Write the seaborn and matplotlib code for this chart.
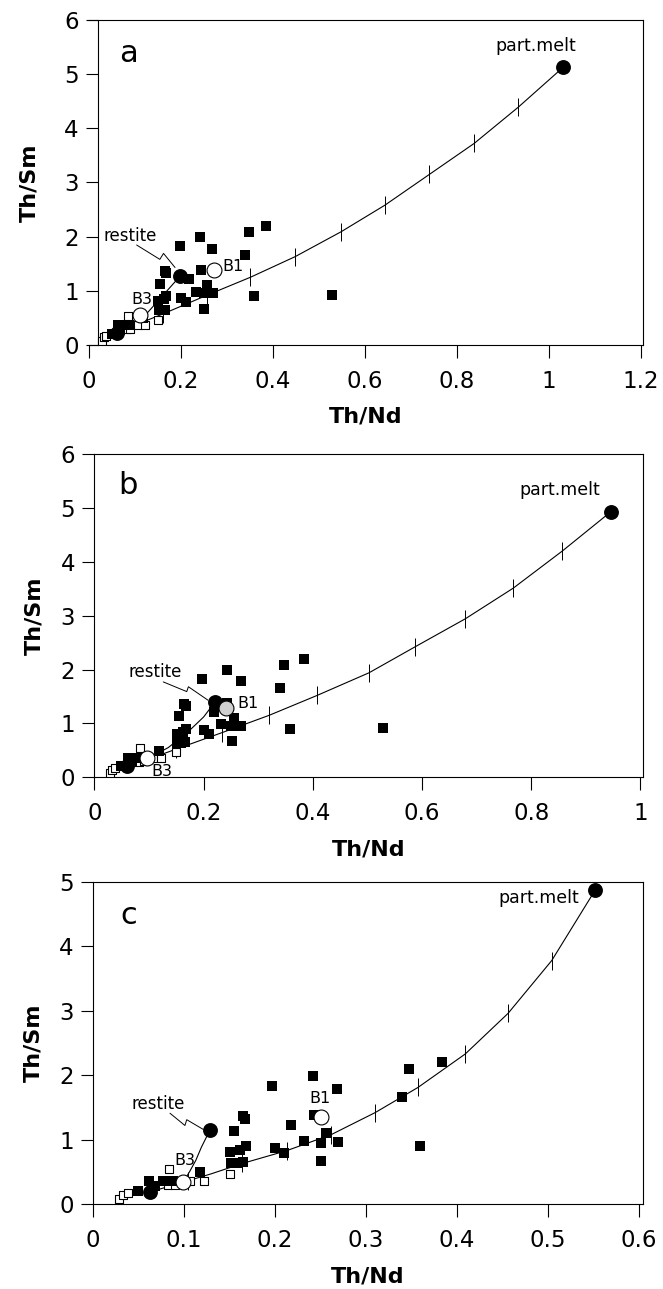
import matplotlib
matplotlib.use('Agg')
import matplotlib.pyplot as plt
import seaborn as sns

# samples (same in all three panels)
sample_x = [0.197, 0.242, 0.268, 0.347, 0.384, 0.340, 0.1645, 0.167, 0.243, 0.218,
            0.155, 0.256, 0.232, 0.250, 0.269, 0.200, 0.210, 0.1505, 0.168, 0.162,
            0.152, 0.159, 0.165, 0.251, 0.359, 0.1176, 0.062, 0.077, 0.088, 0.049, 0.068]
sample_y = [1.83, 1.99, 1.78, 2.09, 2.20, 1.66, 1.36, 1.32, 1.38, 1.22,
            1.13, 1.10, 0.98, 0.955, 0.96, 0.87, 0.80, 0.81, 0.90, 0.84,
            0.64, 0.64, 0.65, 0.67, 0.90, 0.49, 0.36, 0.36, 0.36, 0.21, 0.28]
open_x = [0.029, 0.033, 0.038, 0.084, 0.082, 0.090, 0.107, 0.122, 0.150]
open_y = [0.08, 0.14, 0.17, 0.54, 0.29, 0.30, 0.36, 0.36, 0.465]
# only plotted in panels a and b
outlier_x = [0.528]
outlier_y = [0.92]

# panel a model
curve_a_x = [0.06, 0.11, 0.16, 0.257, 0.351, 0.448, 0.548, 0.643, 0.74, 0.837, 0.933, 1.031]
curve_a_y = [0.22, 0.40, 0.57, 0.92, 1.25, 1.63, 2.09, 2.58, 3.15, 3.72, 4.39, 5.13]
ticks_a_x = [0.16, 0.257, 0.351, 0.448, 0.548, 0.643, 0.74, 0.837, 0.933]
ticks_a_y = [0.57, 0.92, 1.25, 1.63, 2.09, 2.58, 3.15, 3.72, 4.39]
mix_a_x = [0.113, 0.198]
mix_a_y = [0.46, 1.27]
lead_a_x = [0.1036, 0.154, 0.162, 0.187]
lead_a_y = [1.845, 1.58, 1.69, 1.43]

# panel b model
curve_b_x = [0.059, 0.097, 0.149, 0.234, 0.32, 0.408, 0.503, 0.587, 0.679, 0.767, 0.857, 0.946]
curve_b_y = [0.20, 0.33, 0.52, 0.83, 1.15, 1.52, 1.94, 2.42, 2.94, 3.51, 4.20, 4.93]
ticks_b_x = [0.149, 0.234, 0.32, 0.408, 0.503, 0.587, 0.679, 0.767, 0.857]
ticks_b_y = [0.52, 0.83, 1.15, 1.52, 1.94, 2.42, 2.94, 3.51, 4.20]
mix_b_x = [0.10, 0.135, 0.17, 0.20, 0.221]
mix_b_y = [0.36, 0.55, 0.83, 1.12, 1.40]
lead_b_x = [0.126, 0.169, 0.172, 0.208]
lead_b_y = [1.77, 1.59, 1.68, 1.43]

# panel c model
curve_c_x = [0.063, 0.08, 0.104, 0.13, 0.164, 0.213, 0.262, 0.31, 0.357, 0.409, 0.456, 0.504, 0.552]
curve_c_y = [0.19, 0.26, 0.36, 0.47, 0.63, 0.83, 1.08, 1.42, 1.81, 2.33, 2.96, 3.78, 4.88]
ticks_c_x = [0.104, 0.164, 0.213, 0.262, 0.31, 0.357, 0.409, 0.456, 0.504]
ticks_c_y = [0.36, 0.63, 0.83, 1.08, 1.42, 1.81, 2.33, 2.96, 3.78]
mix_c_x = [0.099, 0.106, 0.113, 0.119, 0.125, 0.129]
mix_c_y = [0.34, 0.50, 0.68, 0.88, 1.05, 1.15]
lead_c_x = [0.0846, 0.101, 0.103, 0.121]
lead_c_y = [1.41, 1.22, 1.31, 1.16]

# end members and labelled samples: start, restite, melt, B1, B3
start_pts = {'a': (0.06, 0.22), 'b': (0.059, 0.20), 'c': (0.063, 0.19)}
restite_pts = {'a': (0.198, 1.27), 'b': (0.221, 1.40), 'c': (0.129, 1.15)}
melt_pts = {'a': (1.031, 5.13), 'b': (0.946, 4.93), 'c': (0.552, 4.88)}
b1_pts = {'a': (0.272, 1.38), 'b': (0.240, 1.28), 'c': (0.251, 1.35)}
b3_pts = {'a': (0.111, 0.55), 'b': (0.097, 0.35), 'c': (0.0985, 0.34)}

sns.set_style('ticks')
plt.rcParams['font.family'] = ['DejaVu Sans']
plt.rcParams.update({'text.color': 'black', 'axes.labelcolor': 'black',
                     'xtick.color': 'black', 'ytick.color': 'black',
                     'axes.edgecolor': 'black'})

fig = plt.figure(figsize=(6.63, 12.89), dpi=100)

panels = [
    dict(key='a', rect=[0.1342, 0.7324, 0.8356, 0.2521], xlim=(0, 1.204), ylim=(0, 6),
         xticks=[0, 0.2, 0.4, 0.6, 0.8, 1, 1.2], yticks=range(7),
         curve=(curve_a_x, curve_a_y), ticks=(ticks_a_x, ticks_a_y),
         mix=(mix_a_x, mix_a_y), lead=(lead_a_x, lead_a_y), outlier=True,
         letter=(0.085, 5.38), restite_lbl=(0.089, 2.01), melt_lbl=(0.97, 5.52),
         b1_lbl=(0.313, 1.45), b3_lbl=(0.1145, 0.83), b1_face='white', spine_x=0.02),
    dict(key='b', rect=[0.1425, 0.3970, 0.8273, 0.2508], xlim=(0, 1.0046), ylim=(0, 6),
         xticks=[0, 0.2, 0.4, 0.6, 0.8, 1], yticks=range(7),
         curve=(curve_b_x, curve_b_y), ticks=(ticks_b_x, ticks_b_y),
         mix=(mix_b_x, mix_b_y), lead=(lead_b_x, lead_b_y), outlier=True,
         letter=(0.062, 5.42), restite_lbl=(0.111, 1.96), melt_lbl=(0.853, 5.33),
         b1_lbl=(0.282, 1.37), b3_lbl=(0.123, 0.10), b1_face='#cfcfcf', spine_x=None),
    dict(key='c', rect=[0.1403, 0.0659, 0.8296, 0.2498], xlim=(0, 0.6044), ylim=(0, 5),
         xticks=[0, 0.1, 0.2, 0.3, 0.4, 0.5, 0.6], yticks=range(6),
         curve=(curve_c_x, curve_c_y), ticks=(ticks_c_x, ticks_c_y),
         mix=(mix_c_x, mix_c_y), lead=(lead_c_x, lead_c_y), outlier=False,
         letter=(0.039, 4.48), restite_lbl=(0.0718, 1.55), melt_lbl=(0.490, 4.76),
         b1_lbl=(0.249, 1.64), b3_lbl=(0.101, 0.68), b1_face='white', spine_x=None),
]

for p in panels:
    ax = fig.add_axes(p['rect'])
    k = p['key']

    sns.lineplot(x=p['curve'][0], y=p['curve'][1], ax=ax, color='black', lw=0.8,
                 sort=False, estimator=None)
    sns.lineplot(x=p['mix'][0], y=p['mix'][1], ax=ax, color='black', lw=0.8,
                 sort=False, estimator=None)
    sns.lineplot(x=p['lead'][0], y=p['lead'][1], ax=ax, color='black', lw=0.7,
                 sort=False, estimator=None)
    ax.plot(p['ticks'][0], p['ticks'][1], ls='none', marker='|', ms=13,
            mew=0.7, color='black')

    sns.scatterplot(x=open_x, y=open_y, ax=ax, marker='s', s=28, facecolor='white',
                    edgecolor='black', linewidth=0.8, zorder=3)
    sns.scatterplot(x=sample_x, y=sample_y, ax=ax, marker='s', s=46, color='black',
                    linewidth=0, zorder=4)
    if p['outlier']:
        sns.scatterplot(x=outlier_x, y=outlier_y, ax=ax, marker='s', s=46,
                        color='black', linewidth=0, zorder=4)

    big_x = [start_pts[k][0], restite_pts[k][0], melt_pts[k][0]]
    big_y = [start_pts[k][1], restite_pts[k][1], melt_pts[k][1]]
    sns.scatterplot(x=big_x, y=big_y, ax=ax, marker='o', s=115, color='black',
                    linewidth=0, zorder=5)
    sns.scatterplot(x=[b1_pts[k][0]], y=[b1_pts[k][1]], ax=ax, marker='o', s=115,
                    facecolor=p['b1_face'], edgecolor='black', linewidth=0.8, zorder=6)
    sns.scatterplot(x=[b3_pts[k][0]], y=[b3_pts[k][1]], ax=ax, marker='o', s=115,
                    facecolor='white', edgecolor='black', linewidth=0.8, zorder=6)

    ax.text(*p['letter'], k, fontsize=22, ha='center', va='center')
    ax.text(*p['restite_lbl'], 'restite', fontsize=12, ha='center', va='center')
    ax.text(*p['melt_lbl'], 'part.melt', fontsize=12.5, ha='center', va='center')
    ax.text(*p['b1_lbl'], 'B1', fontsize=11.5, ha='center', va='center')
    ax.text(*p['b3_lbl'], 'B3', fontsize=11.5, ha='center', va='center')

    ax.set_xlim(p['xlim'])
    ax.set_ylim(p['ylim'])
    ax.set_xticks(p['xticks'])
    ax.set_xticklabels([f'{v:g}' for v in p['xticks']])
    ax.set_yticks(list(p['yticks']))
    ax.tick_params(axis='both', direction='out', length=9, width=0.8,
                   labelsize=16.5, color='black', labelcolor='black')
    ax.tick_params(axis='x', pad=9)
    ax.tick_params(axis='y', pad=5)
    for sp in ax.spines.values():
        sp.set_visible(True)
        sp.set_linewidth(0.8)
        sp.set_color('black')
    if p['spine_x'] is not None:
        ax.spines['left'].set_position(('data', p['spine_x']))

    h_px = p['rect'][3] * 1289
    w_px = p['rect'][2] * 663
    ax.set_xlabel('Th/Nd', fontsize=16, fontweight='bold', va='center')
    ax.set_ylabel('Th/Sm', fontsize=16, fontweight='bold', va='center')
    ax.xaxis.set_label_coords(0.5, -72 / h_px)
    ax.yaxis.set_label_coords(-60 / w_px, 0.5)

fig.savefig('out.png', dpi=100)
